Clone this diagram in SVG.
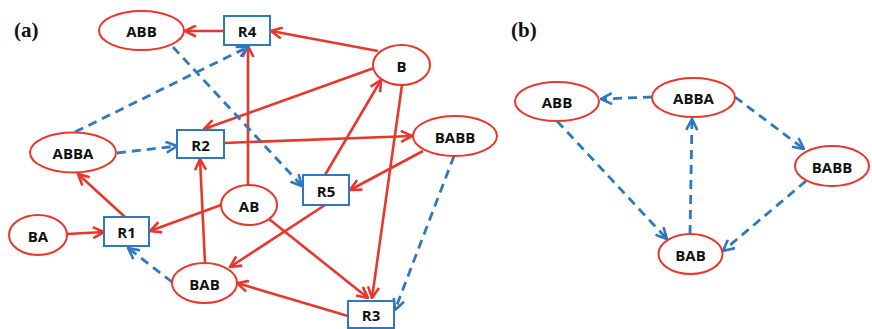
<svg xmlns="http://www.w3.org/2000/svg" width="872" height="329" viewBox="0 0 872 329">
  <style>
    .state ellipse { fill: #fff; stroke: #e8372c; stroke-width: 2; }
    .rxn rect { fill: #fff; stroke: #2e78c0; stroke-width: 2; }
    .lbl { font-family: "Open Sans", "Liberation Sans", sans-serif; font-weight: 700; font-size: 15px; fill: #111; text-anchor: middle; dominant-baseline: central; }
    .panel { font-family: "Liberation Serif", serif; font-weight: 700; font-size: 21px; fill: #111; }
    .red { stroke: #e8372c; stroke-width: 2.6; fill: none; marker-end: url(#ahRed); }
    .blue { stroke: #2e78c0; stroke-width: 2.8; fill: none; stroke-dasharray: 9 6; marker-end: url(#ahBlue); }
  </style>
  <defs>
    <marker id="ahRed" viewBox="0 0 13 13" refX="12" refY="6.5" markerWidth="13" markerHeight="13" markerUnits="userSpaceOnUse" orient="auto">
      <path d="M1,1 L12,6.5 L1,12" fill="none" stroke="#e8372c" stroke-width="2.6" stroke-linejoin="miter"/>
    </marker>
    <marker id="ahBlue" viewBox="0 0 13 13" refX="12" refY="6.5" markerWidth="13" markerHeight="13" markerUnits="userSpaceOnUse" orient="auto">
      <path d="M1,1 L12,6.5 L1,12" fill="none" stroke="#2e78c0" stroke-width="2.6" stroke-linejoin="miter"/>
    </marker>
  </defs>

  <rect width="872" height="329" fill="#fff"/>

  <text class="panel" x="14" y="37">(a)</text>
  <text class="panel" x="511" y="37">(b)</text>

  <!-- connectors of panel (a) and (b) -->
  <g id="connectors">
    <!-- panel (a): red solid -->
    <line class="red" x1="224" y1="31" x2="185" y2="31"/>
    <line class="red" x1="378" y1="51" x2="271" y2="31"/>
    <line class="red" x1="248" y1="185" x2="248" y2="46"/>
    <line class="red" x1="374" y1="68" x2="204" y2="129"/>
    <line class="red" x1="224" y1="143" x2="412" y2="136"/>
    <line class="red" x1="402" y1="85" x2="372" y2="298"/>
    <line class="red" x1="325" y1="175" x2="381" y2="80"/>
    <line class="red" x1="423" y1="151" x2="350" y2="190"/>
    <line class="red" x1="221" y1="205" x2="150" y2="231"/>
    <line class="red" x1="125" y1="217" x2="78" y2="174"/>
    <line class="red" x1="67" y1="234" x2="104" y2="232"/>
    <line class="red" x1="205" y1="263" x2="200" y2="159"/>
    <line class="red" x1="325" y1="205" x2="230" y2="267"/>
    <line class="red" x1="269" y1="219" x2="368" y2="298"/>
    <line class="red" x1="348" y1="316" x2="237" y2="283"/>
    <!-- panel (a): blue dashed -->
    <line class="blue" x1="117" y1="153" x2="177" y2="146"/>
    <line class="blue" x1="75" y1="132" x2="248" y2="47"/>
    <line class="blue" x1="173" y1="47" x2="302" y2="186"/>
    <line class="blue" x1="172" y1="282" x2="128" y2="248"/>
    <line class="blue" x1="454" y1="156" x2="395" y2="310"/>
    <!-- panel (b): blue dashed -->
    <line class="blue" x1="652" y1="97" x2="601" y2="99"/>
    <line class="blue" x1="735" y1="97" x2="804" y2="149"/>
    <line class="blue" x1="690" y1="234" x2="692" y2="119"/>
    <line class="blue" x1="557" y1="121" x2="667" y2="239"/>
    <line class="blue" x1="806" y1="181" x2="723" y2="251"/>
  </g>

  <!-- panel (a) nodes -->
  <g id="a-ABB" class="state"><ellipse cx="141.5" cy="30.5" rx="42.5" ry="19.5"/><text class="lbl" x="141.5" y="31">ABB</text></g>
  <g id="a-R4" class="rxn"><rect x="224" y="16" width="46" height="29"/><text class="lbl" x="247" y="31">R4</text></g>
  <g id="a-B" class="state"><ellipse cx="401.5" cy="65" rx="28.5" ry="20"/><text class="lbl" x="401.5" y="65.5">B</text></g>
  <g id="a-ABBA" class="state"><ellipse cx="73" cy="152.5" rx="43" ry="20"/><text class="lbl" x="73" y="153">ABBA</text></g>
  <g id="a-R2" class="rxn"><rect x="177" y="130" width="47" height="28"/><text class="lbl" x="200.5" y="144.5">R2</text></g>
  <g id="a-BABB" class="state"><ellipse cx="455" cy="136" rx="42" ry="20"/><text class="lbl" x="455" y="136.5">BABB</text></g>
  <g id="a-R5" class="rxn"><rect x="303" y="175" width="46" height="30"/><text class="lbl" x="326" y="190.5">R5</text></g>
  <g id="a-AB" class="state"><ellipse cx="249" cy="205" rx="28" ry="20"/><text class="lbl" x="249" y="205.5">AB</text></g>
  <g id="a-BA" class="state"><ellipse cx="38" cy="235" rx="29" ry="20"/><text class="lbl" x="38" y="235.5">BA</text></g>
  <g id="a-R1" class="rxn"><rect x="104" y="217" width="45" height="29"/><text class="lbl" x="126.5" y="232">R1</text></g>
  <g id="a-BAB" class="state"><ellipse cx="204.5" cy="283" rx="32.5" ry="20"/><text class="lbl" x="204.5" y="283.5">BAB</text></g>
  <g id="a-R3" class="rxn"><rect x="348" y="301" width="46" height="27"/><text class="lbl" x="371" y="315">R3</text></g>

  <!-- panel (b) nodes -->
  <g id="b-ABB" class="state"><ellipse cx="557" cy="101.5" rx="42" ry="19.5"/><text class="lbl" x="557" y="102">ABB</text></g>
  <g id="b-ABBA" class="state"><ellipse cx="693.5" cy="97.5" rx="41.5" ry="19.5"/><text class="lbl" x="693.5" y="98">ABBA</text></g>
  <g id="b-BABB" class="state"><ellipse cx="832" cy="166" rx="37" ry="20"/><text class="lbl" x="832" y="166.5">BABB</text></g>
  <g id="b-BAB" class="state"><ellipse cx="690.5" cy="254" rx="32" ry="20"/><text class="lbl" x="690.5" y="254.5">BAB</text></g>
</svg>
